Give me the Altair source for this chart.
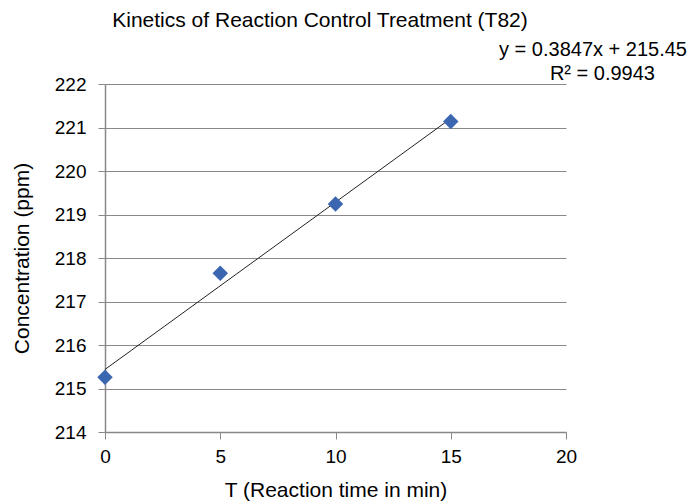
import altair as alt
import pandas as pd

time_min = [0, 5, 10, 15]
concentration = [215.26, 217.65, 219.24, 221.14]
eq_lines = ["y = 0.3847x + 215.45", "R² = 0.9943"]
chart_title = "Kinetics of Reaction Control Treatment (T82)"

df = pd.DataFrame({"t": time_min, "c": concentration})
FONT = "Liberation Sans"

x_enc = alt.X("t:Q", title="T (Reaction time in min)",
              scale=alt.Scale(domain=[0, 20], nice=False),
              axis=alt.Axis(values=[0, 5, 10, 15, 20], grid=False, tickSize=7, labelFlush=False,
                            labelPadding=8, titlePadding=13))
y_enc = alt.Y("c:Q", title="Concentration (ppm)",
              scale=alt.Scale(domain=[214, 222], nice=False, zero=False),
              axis=alt.Axis(values=list(range(214, 223)), grid=True, tickSize=7,
                            labelPadding=12, titlePadding=22))

base = alt.Chart(df)
points = base.mark_point(shape="diamond", filled=True, size=240, color="#3B67B0", opacity=1).encode(x=x_enc, y=y_enc)
trend = base.transform_regression("t", "c").mark_line(color="#222222", strokeWidth=1).encode(x="t:Q", y="c:Q")

eq_df = pd.DataFrame({"txt": eq_lines, "xp": [582, 550], "yp": [-34, -10]})
eq = alt.Chart(eq_df).mark_text(align="right", baseline="middle", font=FONT, fontSize=20, color="black").encode(
    text="txt:N", x=alt.X("xp:Q", scale=None), y=alt.Y("yp:Q", scale=None))

title_df = pd.DataFrame({"txt": [chart_title], "xp": [215], "yp": [-63]})
title = alt.Chart(title_df).mark_text(align="center", baseline="middle", font=FONT, fontSize=21, color="black").encode(
    text="txt:N", x=alt.X("xp:Q", scale=None), y=alt.Y("yp:Q", scale=None))

chart = alt.layer(trend, points, eq, title).properties(
    width=461, height=348,
    autosize=alt.AutoSizeParams(type="none"),
    padding={"left": 105, "top": 84, "right": 129, "bottom": 71},
).configure_view(stroke=None).configure_axis(
    labelFont=FONT, titleFont=FONT, labelFontSize=19, titleFontSize=21,
    labelColor="black", titleColor="black", titleFontWeight="normal",
    domainColor="#888888", tickColor="#888888", gridColor="#888888",
    domainWidth=1.5, gridWidth=1.2,
)

chart.save("out.html", embed_options={"renderer": "svg", "actions": False})
